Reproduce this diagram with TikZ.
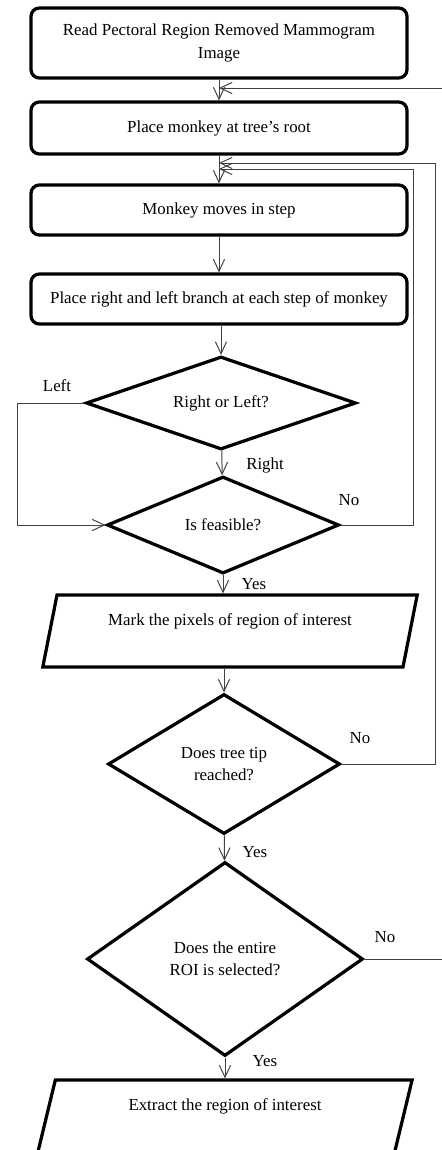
\documentclass[tikz,border=0pt]{standalone}
\usepackage{fontspec}
\setmainfont{Liberation Serif}
\usetikzlibrary{shapes.geometric,arrows.meta}

\begin{document}
\begin{tikzpicture}[x=0.25mm,y=-0.25mm,
        font=\fontsize{12}{16}\selectfont,
        >={Straight Barb[length=3mm,width=2.8mm]},
        box/.style={draw,line width=2.3pt,rounded corners=6pt,minimum width=94mm,inner sep=0pt,align=center},
        decision/.style={draw,diamond,line width=2.3pt,inner sep=0pt,align=center},
        io/.style={draw,trapezium,trapezium left angle=76.5,trapezium right angle=103.5,trapezium stretches=true,
                   line width=2.3pt,minimum width=93.75mm,minimum height=18mm,text depth=5.5mm},
        flow/.style={draw=black!75,line width=0.7pt}]
        \useasboundingbox (0,0) rectangle (442,1150);
        \clip (0,0) rectangle (442,1150);

        % boxes
        \node[box,minimum height=17.5mm] (read) at (219,43) {Read Pectoral Region Removed Mammogram\\Image};
        \node[box,minimum height=13mm] (root) at (219,128) {Place monkey at tree's root};
        \node[box,minimum height=12.5mm] (moves) at (219,210) {Monkey moves in step};
        \node[box,minimum height=12.5mm] (branch) at (219,299) {Place right and left branch at each step of monkey};

        % decisions
        \node[decision,aspect=2.9,minimum width=67.5mm,minimum height=23.25mm] (rl) at (221,403) {Right or Left?};
        \node[decision,aspect=2.4,minimum width=58mm,minimum height=24.25mm] (feas) at (223,525) {Is feasible?};
        \node[io] (mark) at (230,631) {Mark the pixels of region of interest};
        \node[decision,aspect=1.66,minimum width=58mm,minimum height=35mm] (tip) at (224,764) {Does tree tip\\reached?};
        \node[decision,aspect=1.42,minimum width=69mm,minimum height=48.5mm] (roi) at (225,959) {Does the entire\\ROI is selected?};
        \node[io] (extract) at (225,1116) {Extract the region of interest};

        % labels
        \node (lleft) at (57,386) {Left};
        \node (lright) at (265,465) {Right};
        \node (lno1) at (349,500) {No};
        \node (lyes1) at (254,584) {Yes};
        \node (lno2) at (360,738) {No};
        \node (lyes2) at (255,852) {Yes};
        \node (lno3) at (385,937) {No};
        \node (lyes3) at (265,1061) {Yes};

        % loop corners
        \coordinate (lft) at (17,403);
        \coordinate (feasup) at (413,169);
        \coordinate (tipup) at (435,163);
        \coordinate (roiout) at (442,959);
        \coordinate (roiin) at (442,88);

        \draw[flow,->] (read) -- (root);
        \draw[flow,->] (root) -- (moves);
        \draw[flow,->] (moves) -- (branch);
        \draw[flow,->] (rl.north |- branch.south) -- (rl.north);
        \draw[flow,->] (rl) -- (feas);
        \draw[flow,->] (feas.south) -- (feas.south |- mark.north);
        \draw[flow,->] (tip.north |- mark.south) -- (tip.north);
        \draw[flow,->] (tip) -- (roi);
        \draw[flow,->] (roi.south) -- (roi.south |- extract.north);

        \draw[flow,->] (rl.west) -- (lft) |- (feas.west);
        \draw[flow,->] (feas.east) -| (feasup) -- (feasup -| moves.north);
        \draw[flow,->] (tip.east) -| (tipup) -- (tipup -| moves.north);
        \draw[flow] (roi.east) -- (roiout);
        \draw[flow,->] (roiin) -- (roiin -| root.north);
\end{tikzpicture}
\end{document}
